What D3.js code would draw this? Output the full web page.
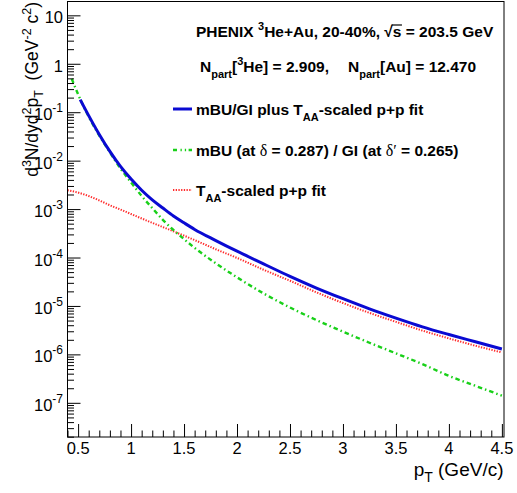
<!DOCTYPE html>
<html>
<head>
<meta charset="utf-8">
<script src="https://cdn.jsdelivr.net/npm/d3@7"></script>
<style>
  body { margin: 0; background: #fff; }
  svg { display: block; }
  text { font-family: "Liberation Sans", Arial, Helvetica, sans-serif; fill: #000; }
</style>
</head>
<body>
<svg id="chart" width="517" height="493"></svg>
<script>
// ---- data -------------------------------------------------------------
// mBU/GI plus T_AA-scaled p+p fit (sum)
const sumPt  = [0.52, 0.6, 0.7, 0.8, 0.9, 1.0, 1.1, 1.2, 1.3, 1.4, 1.5, 1.6, 1.8, 2.0, 2.25, 2.5, 2.75, 3.0, 3.25, 3.5, 3.75, 4.0, 4.25, 4.5];
const sumVal = [0.182, 0.085, 0.0347, 0.0155, 7.6e-3, 4.17e-3, 2.45e-3, 1.55e-3, 1.05e-3, 7.2e-4, 5.2e-4, 3.8e-4, 2.24e-4, 1.35e-4, 7.4e-5, 4.07e-5, 2.34e-5, 1.41e-5, 8.7e-6, 5.6e-6, 3.7e-6, 2.57e-6, 1.82e-6, 1.29e-6];

// mBU (delta = 0.287) / GI (delta' = 0.265)
const mbuPt  = [0.44, 0.5, 0.6, 0.7, 0.8, 0.9, 1.0, 1.1, 1.2, 1.3, 1.4, 1.5, 1.6, 1.8, 2.0, 2.25, 2.5, 2.75, 3.0, 3.25, 3.5, 3.75, 4.0, 4.25, 4.5];
const mbuVal = [0.49, 0.234, 0.081, 0.033, 0.0148, 6.9e-3, 3.55e-3, 1.86e-3, 1.05e-3, 6.0e-4, 3.7e-4, 2.4e-4, 1.58e-4, 7.6e-5, 3.9e-5, 1.82e-5, 9.3e-6, 5.1e-6, 2.95e-6, 1.74e-6, 1.05e-6, 6.3e-7, 3.6e-7, 2.24e-7, 1.41e-7];

// T_AA-scaled p+p fit
const ppPt  = [0.4, 0.5, 0.6, 0.7, 0.8, 0.9, 1.0, 1.2, 1.4, 1.6, 1.8, 2.0, 2.25, 2.5, 2.75, 3.0, 3.25, 3.5, 3.75, 4.0, 4.25, 4.5];
const ppVal = [2.45e-3, 2.19e-3, 1.86e-3, 1.51e-3, 1.20e-3, 9.8e-4, 7.9e-4, 5.2e-4, 3.47e-4, 2.29e-4, 1.48e-4, 9.8e-5, 5.6e-5, 3.31e-5, 1.91e-5, 1.15e-5, 7.2e-6, 4.7e-6, 3.1e-6, 2.14e-6, 1.51e-6, 1.10e-6];

// axis ticks
const xMajorTicks  = [0.5, 1, 1.5, 2, 2.5, 3, 3.5, 4, 4.5];
const xTickLabels  = ["0.5", "1", "1.5", "2", "2.5", "3", "3.5", "4", "4.5"];
const yDecadeExps  = [1, 0, -1, -2, -3, -4, -5, -6, -7];

// ---- layout -----------------------------------------------------------
const svg = d3.select("#chart");
const F = { left: 67.5, right: 504, top: 1.5, bottom: 437 };

const x = d3.scaleLinear().domain([0.4, 4.52]).range([F.left, F.right]);
const y = d3.scaleLog().domain([1.97e-8, 19.3]).range([F.bottom, F.top]);

svg.append("rect").attr("width", 517).attr("height", 493).attr("fill", "#fff");

svg.append("defs").append("clipPath").attr("id", "plotClip")
  .append("rect")
  .attr("x", F.left).attr("y", F.top)
  .attr("width", F.right - F.left).attr("height", F.bottom - F.top);

// ---- curves -----------------------------------------------------------
const line = d3.line()
  .x(d => x(d[0]))
  .y(d => y(d[1]))
  .curve(d3.curveMonotoneX);

const curves = svg.append("g").attr("clip-path", "url(#plotClip)");

curves.append("path")
  .datum(d3.zip(ppPt, ppVal))
  .attr("d", line)
  .attr("fill", "none")
  .attr("stroke", "#ff2a2a")
  .attr("stroke-width", 2)
  .attr("stroke-dasharray", "1.3,1.4");

curves.append("path")
  .datum(d3.zip(mbuPt, mbuVal))
  .attr("d", line)
  .attr("fill", "none")
  .attr("stroke", "#19d019")
  .attr("stroke-width", 2.4)
  .attr("stroke-dasharray", "4.5,3,1.5,3");

curves.append("path")
  .datum(d3.zip(sumPt, sumVal))
  .attr("d", line)
  .attr("fill", "none")
  .attr("stroke", "#0a0ad2")
  .attr("stroke-width", 3);

// ---- axes -------------------------------------------------------------
const yMajor = yDecadeExps.map(e => Math.pow(10, e));
const yMinor = [];
for (let e = -8; e <= 1; e++) {
  for (let k = 2; k <= 9; k++) {
    const v = k * Math.pow(10, e);
    if (v >= y.domain()[0] && v <= y.domain()[1]) yMinor.push(v);
  }
}
const xMinor = d3.range(4, 46).map(i => i / 10).filter(v => !xMajorTicks.includes(v));

function strip(g) { g.select(".domain").remove(); g.selectAll("line").attr("stroke", "#000"); }

svg.append("g").attr("transform", `translate(${F.left},0)`)
  .call(d3.axisLeft(y).tickValues(yMajor).tickSize(-13).tickFormat(""))
  .call(strip);
svg.append("g").attr("transform", `translate(${F.left},0)`)
  .call(d3.axisLeft(y).tickValues(yMinor).tickSize(-6.5).tickFormat(""))
  .call(strip);
svg.append("g").attr("transform", `translate(0,${F.bottom})`)
  .call(d3.axisBottom(x).tickValues(xMajorTicks).tickSize(-13).tickFormat(""))
  .call(strip);
svg.append("g").attr("transform", `translate(0,${F.bottom})`)
  .call(d3.axisBottom(x).tickValues(xMinor).tickSize(-6.5).tickFormat(""))
  .call(strip);

// frame
svg.append("rect")
  .attr("x", F.left).attr("y", F.top)
  .attr("width", F.right - F.left).attr("height", F.bottom - F.top)
  .attr("fill", "none").attr("stroke", "#000").attr("stroke-width", 1);

// y tick labels (powers of ten)
yDecadeExps.forEach(e => {
  const t = svg.append("text")
    .attr("x", 63).attr("y", y(Math.pow(10, e)) + 8)
    .attr("text-anchor", "end")
    .attr("font-size", 16.5);
  if (e === 0) t.text("1");
  else if (e === 1) t.text("10");
  else {
    t.append("tspan").text("10");
    t.append("tspan").attr("dy", -8).attr("font-size", 12).text(String(e));
  }
});

// x tick labels
xMajorTicks.forEach((v, i) => {
  svg.append("text")
    .attr("x", x(v)).attr("y", 454)
    .attr("text-anchor", "middle")
    .attr("font-size", 16.5)
    .text(xTickLabels[i]);
});

// rich text helper: parts = [[text, kind]] with kind n | sup | sub | greek
function rich(sel, parts, o) {
  let off = 0;
  parts.forEach(([t, k]) => {
    const target = k === "sup" ? -o.sup : k === "sub" ? o.sub : 0;
    const ts = sel.append("tspan").attr("dy", target - off).text(t);
    if (k === "sup" || k === "sub") ts.attr("font-size", o.small);
    if (k === "greek") ts.attr("font-family", "'Liberation Serif','DejaVu Serif',serif").attr("font-weight", "normal").attr("font-size", o.greek);
    off = target;
  });
  return sel;
}

// axis titles
const xTitle = svg.append("text")
  .attr("x", 503.5).attr("y", 476)
  .attr("text-anchor", "end")
  .attr("font-size", 19);
rich(xTitle, [["p", "n"], ["T", "sub"], [" (GeV/c)", "n"]], { sup: 8, sub: 6, small: 14 });

const yTitle = svg.append("text")
  .attr("transform", "translate(37.5,2) rotate(-90)")
  .attr("text-anchor", "end")
  .attr("font-size", 17.5);
rich(yTitle, [["d", "n"], ["3", "sup"], ["N/dyd", "n"], ["2", "sup"], ["p", "n"], ["T", "sub"],
              ["\u00a0\u00a0(GeV", "n"], ["-2", "sup"], [" c", "n"], ["2", "sup"], [")", "n"]],
     { sup: 7, sub: 5, small: 12.5 });

// ---- legend / labels ---------------------------------------------------
const legend = svg.append("g").attr("font-weight", "bold");
const lo = { sup: 7, sub: 6, small: 11, greek: 16 };
const LF = 15.5;

const l1 = legend.append("text").attr("x", 196).attr("y", 36.5).attr("font-size", LF);
rich(l1, [["PHENIX ", "n"], ["3", "sup"], ["He+Au, 20-40%, \u221As = 203.5 GeV", "n"]], lo);
// overbar of the square root
{
  const s = l1.text();
  const idx = s.indexOf("\u221A");
  const node = l1.node();
  const r0 = node.getExtentOfChar(idx);
  const r1 = node.getExtentOfChar(idx + 1);
  legend.append("line")
    .attr("x1", r0.x + r0.width - 1).attr("x2", r1.x + r1.width + 0.5)
    .attr("y1", r0.y + 2.5).attr("y2", r0.y + 2.5)
    .attr("stroke", "#000").attr("stroke-width", 1.2);
}

const l2a = legend.append("text").attr("x", 200).attr("y", 72).attr("font-size", LF);
rich(l2a, [["N", "n"], ["part", "sub"], ["[", "n"], ["3", "sup"], ["He] = 2.909,", "n"]], lo);
const l2b = legend.append("text").attr("x", 348).attr("y", 72).attr("font-size", LF);
rich(l2b, [["N", "n"], ["part", "sub"], ["[Au] = 12.470", "n"]], lo);

const entries = [
  { y: 115, stroke: "#0a0ad2", width: 3, dash: null,
    parts: [["mBU/GI plus T", "n"], ["AA", "sub"], ["-scaled p+p fit", "n"]] },
  { y: 156, stroke: "#19d019", width: 2.4, dash: "4,3.5,1.3,3,1.3,2.5",
    parts: [["mBU (at ", "n"], ["\u03b4", "greek"], [" = 0.287) / GI (at ", "n"], ["\u03b4\u2032", "greek"], [" = 0.265)", "n"]] },
  { y: 196, stroke: "#ff2a2a", width: 2, dash: "1.3,1.4",
    parts: [["T", "n"], ["AA", "sub"], ["-scaled p+p fit", "n"]] }
];
entries.forEach(en => {
  const ln = legend.append("line")
    .attr("x1", 173).attr("x2", 192)
    .attr("y1", en.y - 6).attr("y2", en.y - 6)
    .attr("stroke", en.stroke).attr("stroke-width", en.width);
  if (en.dash) ln.attr("stroke-dasharray", en.dash);
  const t = legend.append("text").attr("x", 196).attr("y", en.y).attr("font-size", LF);
  rich(t, en.parts, lo);
});
</script>
</body>
</html>
